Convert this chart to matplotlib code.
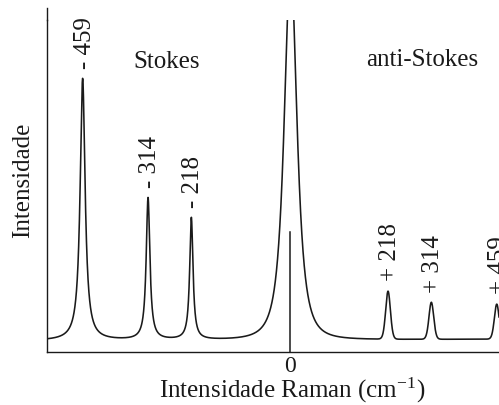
import numpy as np
import matplotlib
matplotlib.use('Agg')
import matplotlib.pyplot as plt

plt.rcParams['font.family'] = ['Liberation Serif', 'DejaVu Serif']
plt.rcParams['mathtext.fontset'] = 'stix'

# Peak data (Raman shift in cm-1, heights in arbitrary units)
peak_pos = [-459, -314, -218, 2, 218, 314, 459]
peak_height = [262, 142, 122, 375, 48, 37, 35]
peak_hwhm = [6.6, 4.9, 4.4, 16.6, 6.2, 6.2, 6.2]
peak_shape = [1.0, 1.0, 1.0, 1.5, 10.0, 10.0, 10.0]   # Pearson VII exponent: 1 = Lorentzian, large = Gaussian
peak_labels = ['- 459', '- 314', '- 218', None, '+ 218', '+ 314', '+ 459']
baseline_ends = [10.8, 12.3]        # left / right background level
zero_line_top = 119.5

x_range = [-538, 464]
y_top = 331.5

# Build the spectrum from the peaks
x = np.linspace(x_range[0], x_range[1], 6000)
y = np.linspace(baseline_ends[0], baseline_ends[1], x.size)
for c, h, w, m in zip(peak_pos, peak_height, peak_hwhm, peak_shape):
    k = 2 ** (1 / m) - 1
    y = y + h * (1 + k * ((x - c) / w) ** 2) ** (-m)

# Figure
W, H = 499, 405
fig = plt.figure(figsize=(W / 100, H / 100), dpi=100)
ax = fig.add_axes([47 / W, (H - 351.5) / H, (W - 47) / W, (351.5 - 20) / H])

col = '#1a1a1a'
ax.plot(x, y, color=col, lw=1.15)
ax.plot([0, 0], [0, zero_line_top], color=col, lw=1.1)

ax.set_xlim(x_range)
ax.set_ylim(0, y_top)

# Axes styling
for s in ['top', 'right']:
    ax.spines[s].set_visible(False)
for s in ['left', 'bottom']:
    ax.spines[s].set_color(col)
    ax.spines[s].set_linewidth(1.0)
# left axis extends a bit above the clipped central peak
ax.plot([0, 0], [1, 1 + 12 / 331.5], transform=ax.transAxes, color=col,
        lw=1.0, clip_on=False)
ax.set_yticks([])
ax.set_xticks([0])
ax.set_xticklabels(['0'])
ax.tick_params(axis='x', length=0, pad=3, labelsize=17, colors=col)

# Peak labels
for c, lab in zip(peak_pos, peak_labels):
    if lab is None:
        continue
    apex = y[np.argmin(np.abs(x - c))]
    ax.annotate(lab, xy=(c, apex), xytext=(1.5, 7), textcoords='offset points',
                rotation=90, ha='center', va='bottom', fontsize=18, color=col)

ax.text(-272, 284, 'Stokes', ha='center', va='baseline', fontsize=18, color=col)
ax.text(294, 285, 'anti-Stokes', ha='center', va='baseline', fontsize=18, color=col)

fig.text(23 / W, (H - 180) / H, 'Intensidade', rotation=90, ha='center',
         va='center', fontsize=18, color=col)
fig.text(292 / W, (H - 398) / H, r'Intensidade Raman (cm$^{\mathregular{-1}}$)',
         ha='center', va='baseline', fontsize=18, color=col)

plt.savefig('out.png', dpi=100)
